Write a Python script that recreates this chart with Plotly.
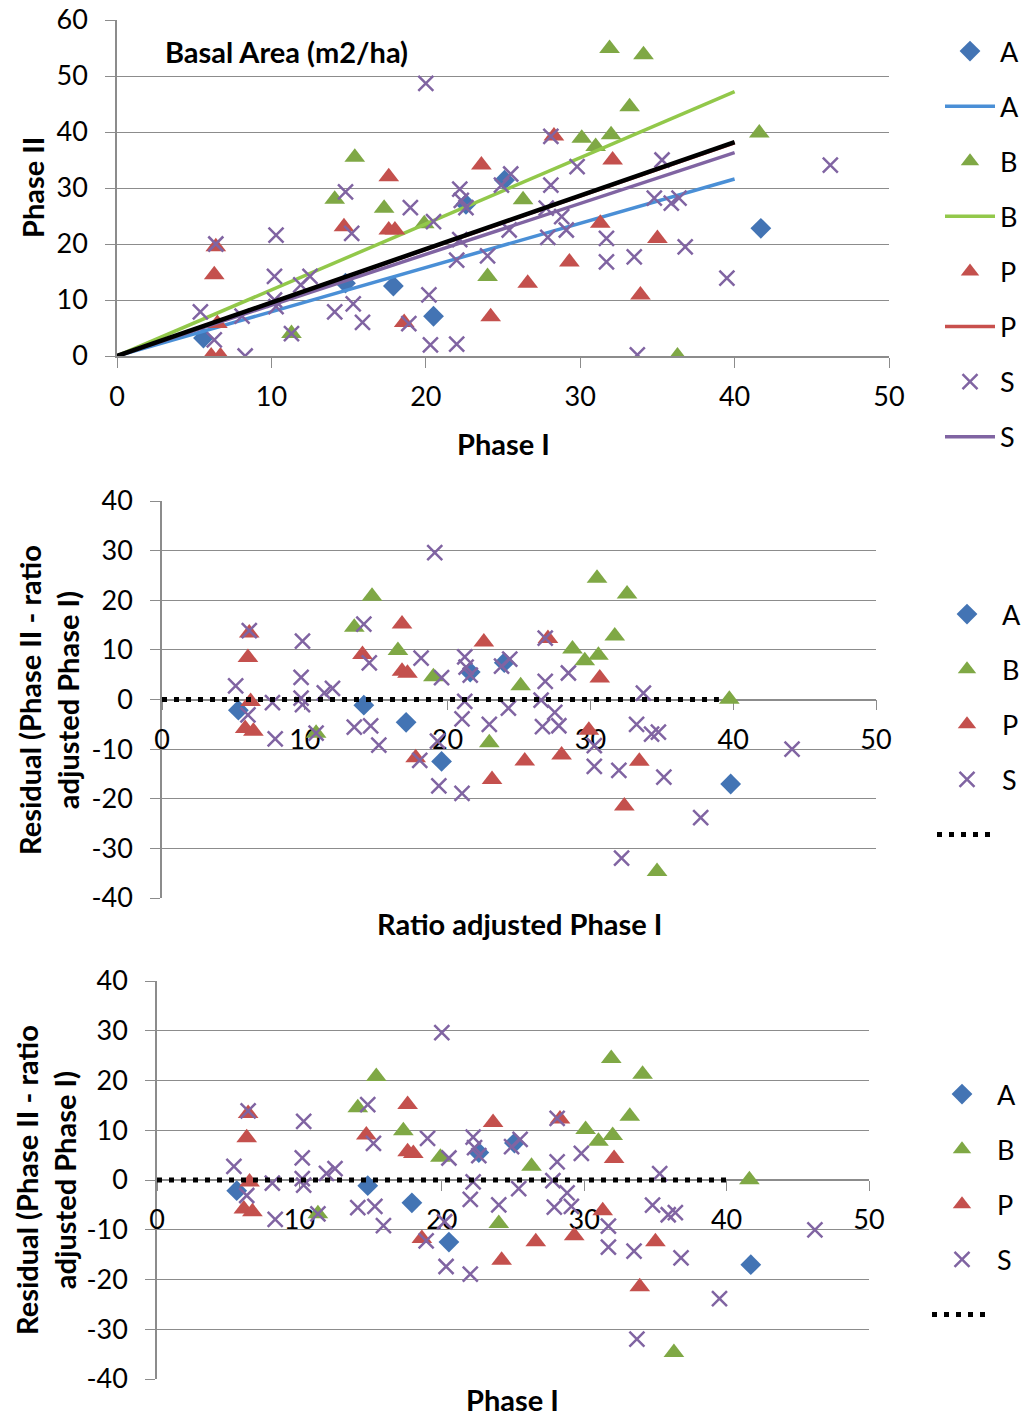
import plotly.graph_objects as go

W, H = 1028, 1418
OFF = 0  # page body margin removed below (post_script), so figure sits at the page corner

# ---------------- data (Basal Area, m2/ha) ----------------
A_phase1 = [5.6, 14.8, 17.9, 20.5, 22.6, 25.1, 41.7]
A_phase2 = [3.2, 13.0, 12.5, 7.1, 27.1, 31.4, 22.8]

B_phase1 = [15.4, 14.1, 17.3, 19.9, 24.0, 11.3, 31.9, 34.1, 33.2, 41.6, 30.1, 31.0, 32.0, 26.3, 36.3]
B_phase2 = [35.5, 28.0, 26.4, 23.6, 14.2, 4.0, 54.9, 53.8, 44.5, 39.8, 38.9, 37.4, 39.5, 27.9, 0.0]

P_phase1 = [17.6, 23.6, 14.7, 17.6, 18.0, 6.4, 6.3, 18.6, 24.2, 6.5, 6.1, 6.7, 28.3, 32.1, 31.3, 35.0, 29.3, 26.6, 33.9]
P_phase2 = [32.0, 34.1, 23.1, 22.5, 22.5, 19.5, 14.5, 6.0, 7.0, 5.8, 0.0, 0.0, 39.3, 35.0, 23.7, 21.0, 16.8, 13.0, 10.9]

S_phase1 = [20.0, 22.2, 14.8, 19.0, 22.3, 22.6, 24.9, 25.5, 20.5, 15.2,
            10.3, 6.4, 22.2, 25.4, 22.0, 24.0, 10.2, 12.5, 11.9, 5.4,
            10.2, 10.3, 8.1, 14.1, 15.3, 15.9, 20.2, 18.9, 11.3, 6.3,
            8.3, 20.3, 22.0, 46.2, 28.1, 29.8, 35.3, 28.1, 27.8, 28.8,
            29.1, 27.9, 34.8, 35.9, 36.4, 31.7, 31.7, 33.5, 36.8, 39.5, 33.7]
S_phase2 = [48.7, 29.8, 29.3, 26.5, 27.8, 26.5, 30.5, 32.5, 24.0, 21.9,
            21.6, 20.0, 20.8, 22.5, 17.1, 17.9, 14.2, 14.2, 12.7, 7.9,
            10.0, 8.8, 7.1, 7.9, 9.3, 6.0, 10.9, 5.8, 4.0, 2.9,
            0.0, 2.0, 2.1, 34.1, 39.2, 33.8, 35.0, 30.5, 26.4, 24.9,
            22.5, 21.2, 28.2, 27.3, 28.2, 21.0, 16.8, 17.7, 19.5, 13.9, 0.2]

# trend line slopes (through origin), fitted over Phase I 0..40
LINE_X = [0, 40]
SLOPE_A = 0.79
SLOPE_B = 1.18
SLOPE_P = 0.952
SLOPE_S = 0.908
RATIO = 0.955          # overall ratio (black line)
ZERO_X_MID = [0, 39]
ZERO_X_BOT = [0, 40]

X_TICKS = [0, 10, 20, 30, 40, 50]
Y_TICKS_TOP = [0, 10, 20, 30, 40, 50, 60]
Y_TICKS_RES = [-40, -30, -20, -10, 0, 10, 20, 30, 40]

SERIES = ["A", "B", "P", "S"]
P1 = {"A": A_phase1, "B": B_phase1, "P": P_phase1, "S": S_phase1}
P2 = {"A": A_phase2, "B": B_phase2, "P": P_phase2, "S": S_phase2}
SLOPES = {"A": SLOPE_A, "B": SLOPE_B, "P": SLOPE_P, "S": SLOPE_S}

# ---------------- styles ----------------
FONT = "Lato"
FS = 27
FT = 29
GRID = "#8c8c8c"
MARK = {
    "A": dict(symbol="diamond", size=16, color="#4374B4"),
    "B": dict(symbol="triangle-up", size=18, color="#7FA845"),
    "P": dict(symbol="triangle-up", size=18, color="#C4504D"),
    "S": dict(symbol="x-thin-open", size=15, color="#8064A2", line=dict(width=2.5, color="#8064A2")),
}
LINEC = {"A": "#4A8FD6", "B": "#92C84A", "P": "#C8504D", "S": "#8064A2"}


def px(x):
    return (x - OFF) / W


def py(y):
    return 1 - (y - OFF) / H


fig = go.Figure()

# ---------- top panel ----------
for s in SERIES:
    fig.add_trace(go.Scatter(x=P1[s], y=P2[s], mode="markers", name=s, marker=MARK[s],
                             xaxis="x", yaxis="y", legend="legend", legendgroup="t" + s + "m"))
    fig.add_trace(go.Scatter(x=LINE_X, y=[SLOPES[s] * v for v in LINE_X], mode="lines", name=s,
                             line=dict(color=LINEC[s], width=3.5), xaxis="x", yaxis="y",
                             legend="legend", legendgroup="t" + s + "l"))
fig.add_trace(go.Scatter(x=LINE_X, y=[RATIO * v for v in LINE_X], mode="lines", showlegend=False,
                         line=dict(color="black", width=4.5), xaxis="x", yaxis="y"))

# ---------- residual panels ----------
for leg, xa, ya, zx in (("legend2", "x2", "y2", ZERO_X_MID), ("legend3", "x3", "y3", ZERO_X_BOT)):
    for s in SERIES:
        resid = [b - RATIO * a for a, b in zip(P1[s], P2[s])]
        xs = [RATIO * a for a in P1[s]] if xa == "x2" else P1[s]
        fig.add_trace(go.Scatter(x=xs, y=resid, mode="markers", name=s, marker=MARK[s],
                                 xaxis=xa, yaxis=ya, legend=leg, legendgroup=leg + s))
    fig.add_trace(go.Scatter(x=zx, y=[0, 0], mode="lines", name=" ",
                             line=dict(color="black", width=5, dash="5px,7px"),
                             xaxis=xa, yaxis=ya, legend=leg, legendgroup=leg + "z"))

tickfont = dict(family=FONT, size=FS, color="black")
common_x = dict(range=[0, 50], tickmode="array", tickvals=X_TICKS, ticktext=[str(v) for v in X_TICKS],
                showgrid=False, zeroline=False, showline=True, layer="below traces",
                linecolor=GRID, linewidth=1.5, ticks="outside", ticklen=10, tickcolor=GRID,
                tickfont=tickfont, ticklabelstandoff=6, ticklabeloverflow="allow")
common_y = dict(tickmode="array", showgrid=True, gridcolor=GRID, gridwidth=1.3, zeroline=False,
                showline=True, linecolor=GRID, linewidth=1.5, ticks="outside", ticklen=10,
                layer="below traces", tickcolor=GRID, tickfont=tickfont, ticklabelstandoff=12,
                ticklabeloverflow="allow")
yt_top = dict(tickvals=Y_TICKS_TOP, ticktext=[str(v) for v in Y_TICKS_TOP])
yt_res = dict(tickvals=Y_TICKS_RES, ticktext=[str(v) for v in Y_TICKS_RES])

legfont = dict(family=FONT, size=FS, color="black")
fig.update_layout(
    width=W, height=H,
    margin=dict(l=0, r=0, t=0, b=0, autoexpand=False),
    paper_bgcolor="white", plot_bgcolor="white",
    font=dict(family=FONT, size=FS, color="black"),
    xaxis=dict(domain=[px(117), px(889)], anchor="y", **common_x),
    yaxis=dict(domain=[py(356), py(20)], anchor="x", range=[0, 60], **yt_top, **common_y),
    xaxis2=dict(domain=[px(162), px(876)], anchor="free", position=py(699.5), **common_x),
    yaxis2=dict(domain=[py(898), py(501)], anchor="x2", range=[-40, 40], **yt_res, **common_y),
    xaxis3=dict(domain=[px(157), px(869)], anchor="free", position=py(1180), **common_x),
    yaxis3=dict(domain=[py(1379), py(981)], anchor="x3", range=[-40, 40], **yt_res, **common_y),
    showlegend=True,
    legend=dict(x=px(940), y=py(27), xanchor="left", yanchor="top", tracegroupgap=17, itemwidth=50,
                font=legfont, bgcolor="rgba(0,0,0,0)"),
    legend2=dict(x=px(932), y=py(590), xanchor="left", yanchor="top", tracegroupgap=17, itemwidth=60,
                 font=legfont, bgcolor="rgba(0,0,0,0)"),
    legend3=dict(x=px(927), y=py(1070), xanchor="left", yanchor="top", tracegroupgap=17, itemwidth=60,
                 font=legfont, bgcolor="rgba(0,0,0,0)"),
)

bold = dict(family=FONT, size=FT, color="black", weight="bold")
ann = [
    dict(text="Basal Area (m2/ha)", x=px(163), y=py(51), xanchor="left", yanchor="middle"),
    dict(text="Phase I", x=px(503), y=py(443), xanchor="center", yanchor="middle"),
    dict(text="Phase II", x=px(32), y=py(188), xanchor="center", yanchor="middle", textangle=-90),
    dict(text="Ratio adjusted Phase I", x=px(519), y=py(923), xanchor="center", yanchor="middle"),
    dict(text="Residual (Phase II - ratio<br>adjusted Phase I)", x=px(48), y=py(700),
         xanchor="center", yanchor="middle", textangle=-90),
    dict(text="Phase I", x=px(512), y=py(1399), xanchor="center", yanchor="middle"),
    dict(text="Residual (Phase II - ratio<br>adjusted Phase I)", x=px(45), y=py(1180),
         xanchor="center", yanchor="middle", textangle=-90),
]
for a in ann:
    fig.add_annotation(xref="paper", yref="paper", showarrow=False, font=bold, **a)

fig.write_html("out.html", config={"displayModeBar": False},
               post_script="document.body.style.margin='0';")
